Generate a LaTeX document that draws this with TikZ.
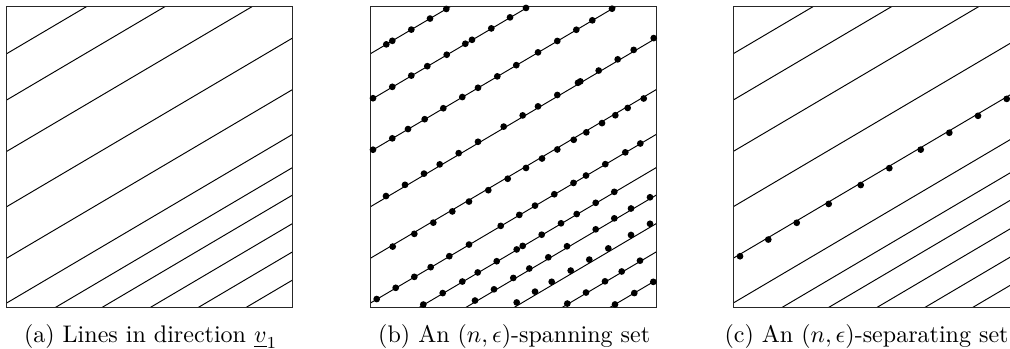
\documentclass[tikz,border=0pt]{standalone}
\usepackage{amsmath}

% one row of points along a line of slope .59 with intercept #1
\newcommand\dotrow[2]{\foreach \x in {#2}{\fill[dot] (\x,{#1+0.59*\x}) circle (1.4pt);}}

\begin{document}
\begin{tikzpicture}[
  x=0.01463cm, y=0.01463cm,
  frame/.style={line width=.5pt, draw=black!85},
  track/.style={line width=.4pt},
  dot/.style={fill=black},
  caption/.style={anchor=base, inner sep=0pt}
]

\useasboundingbox (0,0) rectangle (1010,349);

% the same family of parallel lines in all three panels
\foreach \px in {6.7,370.5,733.3}{
  \begin{scope}[shift={(\px,41.3)}]
    \begin{scope}
      \clip (0,0) rectangle (286,301);
      \foreach \c in {254,207.7,156.3,101,49.5,4.7,-28.5,-56,-84.5,-112.8,-141}
        \draw[track] (0,\c) -- (286,\c+168.74);
    \end{scope}
    \draw[frame] (0,0) rectangle (286,301);
  \end{scope}
}

% (b) spanning set: points spread over every line
\begin{scope}[shift={(370.5,41.3)}]
  \dotrow{254}{15.8,21.8,40.8,59.5,75.8}
  \dotrow{208}{2.5,21.8,40.8,56.8,76.2,94.8,101.5,120.8,139.5,155.5}
  \dotrow{156.5}{2.5,21.8,37.5,54.2,72.8,91.8,107.5,126.8,145.8,167.5,186.8,205.8,221.8,241.5}
  \dotrow{102.5}{15.5,34.5,53.5,69.2,88.2,107.5,133.2,152.2,167.5,186.8,207.5,209.8,228.2,247.2,263.2,283.2}
  \dotrow{48}{22.2,43.8,62.8,81.8,98.5,117.8,137.2,155.5,171.5,186.8,203.2,215.8,231.5,244.8,257.2,273.2}
  \dotrow{5}{6.2,25.2,43.8,60.2,78.8,98.5,130.2,148.8,164.5,183.8,203,215.5,234.8,254.8,269.8}
  \dotrow{-28}{52.8,72.2,91.8,107.2,126.2,146.2,152.2,171.2,190.5,206.2,225.2,243.8}
  \dotrow{-54.5}{104.5,123.5,142.8,158.8,177.8,196.5,225.2,243.8,260.5,279.5}
  \dotrow{-81}{146.2,164.5,181.2,200.2,218.8,237.8,260.5,279.5}
  \dotrow{-112}{196.8,215.5,234.5,251.2,269.5}
  \dotrow{-141}{244.5,263.8,282.8}
\end{scope}

% (c) separating set: points on a single line
\begin{scope}[shift={(733.3,41.3)}]
  \dotrow{47.5}{6.7,35,63.4,95.4,127.4,156,187.4,216,244.7,273.4}
\end{scope}

\node[caption] (capA) at (150.7,6) {(a) Lines in direction $\underline{v}_1$};
\node[caption] (capB) at (514.2,6) {(b) An $(n,\epsilon)$-spanning set};
\node[caption,anchor=base east] (capC) at (1009,6) {(c) An $(n,\epsilon)$-separating set};

\end{tikzpicture}
\end{document}
